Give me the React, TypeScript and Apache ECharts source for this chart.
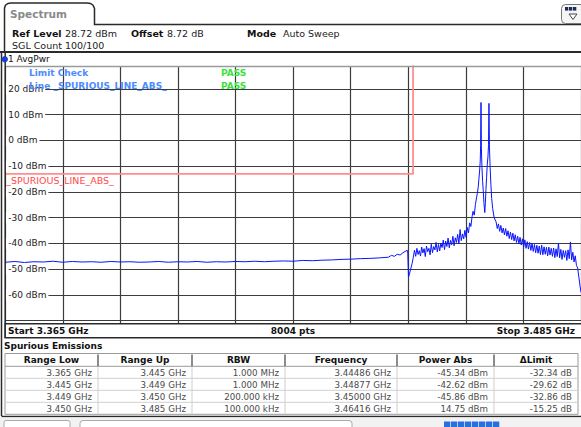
import React, { useEffect, useRef } from "react";
import * as echarts from "echarts";

const FONT = '"DejaVu Sans", Verdana, sans-serif';

// ---- sweep / axes ----
const START_GHZ = 3.365;
const STOP_GHZ = 3.485;
const REF_LEVEL_DBM = 28.72;
const BOTTOM_LEVEL_DBM = -71.28;
const X_DIVISION_MHZ = 12;
const Y_TICKS_DBM = [20, 10, 0, -10, -20, -30, -40, -50, -60];
const Y_TICK_LABELS = ["20 dBm", "10 dBm", "0 dBm", "-10 dBm", "-20 dBm", "-30 dBm", "-40 dBm", "-50 dBm", "-60 dBm"];

// ---- header texts ----
const REF_LEVEL_TEXT = "28.72 dBm";
const OFFSET_TEXT = "8.72 dB";
const MODE_TEXT = "Auto Sweep";
const COUNT_TEXT = "SGL Count 100/100";
const TRACE_NAME = "1 AvgPwr";
const POINTS_TEXT = "8004 pts";

// ---- trace (1 AvgPwr) ----
const FLOOR_START_GHZ = 3.365;
const FLOOR_STEP_GHZ = 0.002;
const FLOOR_DBM = [
  -47.3, -47.0, -47.4, -47.1, -47.2, -46.9, -47.3, -47.0, -47.2, -47.1,
  -47.3, -47.0, -47.2, -47.1, -47.3, -47.2, -47.0, -47.3, -47.1, -47.2,
  -47.0, -47.3, -47.1, -47.2, -47.0, -47.1, -46.9, -47.1, -46.9, -46.8,
  -46.9, -46.6, -46.7, -46.5, -46.4, -46.2, -46.1, -45.9, -45.8, -45.6,
];

const EDGE_GHZ = [3.44486, 3.4455, 3.4461, 3.4467, 3.4473, 3.4479, 3.44877, 3.4489, 3.44905, 3.4492, 3.4495, 3.4498, 3.45];
const EDGE_DBM = [-45.34, -44.6, -45.0, -44.2, -44.5, -43.6, -42.62, -43.8, -53.0, -52.2, -50.0, -47.8, -45.86];

const RISE_START_GHZ = 3.4503;
const RISE_STEP_GHZ = 0.00025;
const RISE_DBM = [
  -42.6, -45.0, -41.9, -44.3, -42.8, -44.9, -41.4, -43.7, -42.0, -45.1,
  -41.0, -43.2, -41.9, -44.4, -40.3, -43.6, -41.2, -42.5, -39.6, -43.3,
  -40.4, -42.9, -39.9, -41.6, -38.7, -42.4, -39.1, -41.2, -37.9, -41.7,
  -38.8, -40.5, -37.2, -40.9, -37.8, -39.6, -36.5, -40.1, -34.6, -38.9,
  -36.3, -38.2, -34.9, -37.6, -33.8, -35.9, -32.0, -33.4, -29.6,
];

const CARRIER_GHZ = [
  3.4625, 3.46275, 3.463, 3.46325, 3.4634, 3.46359, 3.4637, 3.46388, 3.464, 3.46408,
  3.46416, 3.46424, 3.46436, 3.4645, 3.46463, 3.46478, 3.46495, 3.46508, 3.46519, 3.46532,
  3.46546, 3.46562, 3.46573, 3.46582, 3.46592, 3.46606, 3.46622, 3.46638, 3.4666, 3.4669,
];
const CARRIER_DBM = [
  -27.5, -29.0, -24.8, -22.0, -20.5, -18.0, -15.5, -11.5, -8.0, -2.0,
  14.75, -3.0, -10.5, -16.0, -19.5, -24.5, -28.0, -24.0, -19.0, -14.5,
  -9.5, -6.0, -1.5, 14.4, -2.5, -10.4, -17.0, -22.5, -26.5, -30.0,
];

const FALL_START_GHZ = 3.4673;
const FALL_STEP_GHZ = 0.00025;
const FALL_DBM = [
  -31.6, -34.2, -32.4, -35.3, -33.0, -35.9, -34.0, -36.7, -34.2, -37.2,
  -35.1, -38.1, -35.6, -38.5, -36.0, -39.0, -36.6, -39.6, -37.2, -40.2,
  -37.6, -40.6, -38.2, -41.4, -38.6, -41.9, -39.3, -42.2, -39.6, -42.7,
  -40.0, -43.1, -40.4, -43.6, -40.7, -43.8, -41.0, -44.3, -40.6, -44.4,
  -41.3, -44.2, -41.5, -44.8, -41.4, -44.5, -41.9, -45.0, -41.8, -45.5,
  -42.1, -45.1, -39.9, -45.6, -42.3, -46.2, -42.7, -45.4, -42.8, -46.6,
  -42.5, -45.9, -39.4, -46.4, -43.4, -47.2, -44.8, -48.5, -49.5, -53.0,
  -56.5,
];
const TAIL_GHZ = [3.485];
const TAIL_DBM = [-59.0];

// ---- limit line _SPURIOUS_LINE_ABS_ ----
const LIMIT_NAME = "_SPURIOUS_LINE_ABS_";
const LIMIT_GHZ = [3.365, 3.45, 3.45, 3.485];
const LIMIT_DBM = [-13, -13, 30, 30];

// ---- spurious emissions table ----
const TABLE_TITLE = "Spurious Emissions";
const TABLE_HEADERS = ["Range Low", "Range Up", "RBW", "Frequency", "Power Abs", "\u0394Limit"];
const RANGE_LOW = ["3.365 GHz", "3.445 GHz", "3.449 GHz", "3.450 GHz"];
const RANGE_UP = ["3.445 GHz", "3.449 GHz", "3.450 GHz", "3.485 GHz"];
const RBW = ["1.000 MHz", "1.000 MHz", "200.000 kHz", "100.000 kHz"];
const PEAK_FREQ = ["3.44486 GHz", "3.44877 GHz", "3.45000 GHz", "3.46416 GHz"];
const POWER_ABS = ["-45.34 dBm", "-42.62 dBm", "-45.86 dBm", "14.75 dBm"];
const DELTA_LIMIT = ["-32.34 dB", "-29.62 dB", "-32.86 dB", "-15.25 dB"];

function toMHzOffset(ghz: number) {
  return (ghz - START_GHZ) * 1000;
}

function buildTrace(): number[][] {
  const pts: number[][] = [];
  FLOOR_DBM.forEach((v, i) => pts.push([FLOOR_START_GHZ + i * FLOOR_STEP_GHZ, v]));
  EDGE_GHZ.forEach((f, i) => pts.push([f, EDGE_DBM[i]]));
  RISE_DBM.forEach((v, i) => pts.push([RISE_START_GHZ + i * RISE_STEP_GHZ, v]));
  CARRIER_GHZ.forEach((f, i) => pts.push([f, CARRIER_DBM[i]]));
  FALL_DBM.forEach((v, i) => pts.push([FALL_START_GHZ + i * FALL_STEP_GHZ, v]));
  TAIL_GHZ.forEach((f, i) => pts.push([f, TAIL_DBM[i]]));
  return pts.map(([f, v]) => [toMHzOffset(f), v]);
}

const txt = (x: number, y: number, text: string, font: string, fill = "#111", align = "left") => ({
  type: "text",
  x,
  y,
  z: 100,
  silent: true,
  style: { text, font, fill, align, verticalAlign: "middle" },
});
const ln = (x1: number, y1: number, x2: number, y2: number, stroke: string, lineWidth = 1) => ({
  type: "line",
  z: 100,
  silent: true,
  shape: { x1, y1, x2, y2 },
  style: { stroke, lineWidth },
});

function buildGraphics() {
  const g: any[] = [];
  const B9 = `bold 9px ${FONT}`;
  const R9 = `9px ${FONT}`;
  const R85 = `8.7px ${FONT}`;

  // tab
  g.push({
    type: "polyline",
    z: 100,
    silent: true,
    shape: {
      points: [[4.5, 52], [4.5, 8], [5.5, 5.2], [8, 3.5], [11, 3], [87, 3], [90.5, 3.5], [93, 5.2], [94.5, 8.5], [94.5, 24.5], [581, 24.5]],
    },
    style: { stroke: "#2a2a2a", lineWidth: 1.5, fill: null },
  });
  g.push(txt(10, 14, "Spectrum", `bold 10.5px ${FONT}`, "#8a8a8a"));

  // icon top right
  g.push({ type: "rect", z: 100, silent: true, shape: { x: 561.5, y: 4.5, width: 24, height: 19, r: 4 }, style: { fill: "#f5f5f5", stroke: "#777", lineWidth: 1 } });
  [565, 569, 573].forEach((x) =>
    g.push({ type: "rect", z: 101, silent: true, shape: { x, y: 7, width: 3.3, height: 3.6 }, style: { fill: "#1d2d5a" } })
  );
  g.push({ type: "polygon", z: 101, silent: true, shape: { points: [[569, 14], [577, 14], [573, 19.5]] }, style: { fill: "#fff", stroke: "#445", lineWidth: 1 } });

  // info panel
  g.push(txt(12, 33, "Ref Level", `bold 9.5px ${FONT}`));
  g.push(txt(65, 33, REF_LEVEL_TEXT, `9.5px ${FONT}`, "#222"));
  g.push(txt(131, 33, "Offset", `bold 9.5px ${FONT}`));
  g.push(txt(167, 33, OFFSET_TEXT, `9.5px ${FONT}`, "#222"));
  g.push(txt(247, 33, "Mode", `bold 9.5px ${FONT}`));
  g.push(txt(283, 33, MODE_TEXT, `9.5px ${FONT}`, "#222"));
  g.push(txt(12, 45, COUNT_TEXT, `9.5px ${FONT}`, "#222"));
  g.push(ln(0, 52, 581, 52, "#2a2a2a", 1.8));

  // outer left border
  g.push(ln(1.5, 52, 1.5, 416, "#2a2a2a", 1.5));

  // trace name row
  g.push({ type: "circle", z: 101, silent: true, shape: { cx: 4.8, cy: 59.3, r: 3.2 }, style: { fill: "#1a3fd6" } });
  g.push(txt(8, 59.3, TRACE_NAME, R9, "#111"));

  // plot frame
  g.push(ln(5, 66.5, 581, 66.5, "#9a9a9a", 1.5));
  g.push(ln(5.2, 52, 5.2, 338, "#2a2a2a", 1.5));

  // limit check texts
  g.push(txt(29, 72.7, "Limit Check", B9, "#4a8cff"));
  g.push(txt(29, 85.8, "Line " + LIMIT_NAME, B9, "#4a8cff"));
  g.push(txt(221, 72.7, "PASS", B9, "#3be23b"));
  g.push(txt(221, 85.8, "PASS", B9, "#3be23b"));
  g.push(txt(6.2, 180, LIMIT_NAME, `9.5px ${FONT}`, "#ff4a4a"));

  // start / stop bar
  g.push({ type: "rect", z: 100, silent: true, shape: { x: 5.2, y: 323.7, width: 580, height: 14 }, style: { fill: "#fff", stroke: "#2a2a2a", lineWidth: 1.5 } });
  g.push(txt(8, 330.7, `Start ${START_GHZ.toFixed(3)} GHz`, B9));
  g.push(txt(293, 330.7, POINTS_TEXT, B9, "#111", "center"));
  g.push(txt(575, 330.7, `Stop ${STOP_GHZ.toFixed(3)} GHz`, B9, "#111", "right"));

  // table
  g.push(txt(4, 345.5, TABLE_TITLE, B9));
  const COLS = [5, 98, 192, 285, 397, 494, 578];
  const top = 353.5;
  const headH = 12.8;
  const rowH = 12;
  const columns = [RANGE_LOW, RANGE_UP, RBW, PEAK_FREQ, POWER_ABS, DELTA_LIMIT];
  const nRows = RANGE_LOW.length;
  const bottom = top + headH + nRows * rowH;
  g.push({ type: "rect", z: 100, silent: true, shape: { x: COLS[0], y: top, width: COLS[6] - COLS[0], height: bottom - top }, style: { fill: "#fff", stroke: "#9a9a9a", lineWidth: 1 } });
  for (let r = 1; r <= nRows - 1; r++) {
    const y = top + headH + r * rowH;
    g.push(ln(COLS[0], y, COLS[6], y, "#d0d0d0", 1));
  }
  g.push(ln(COLS[0], top + headH, COLS[6], top + headH, "#9a9a9a", 1));
  for (let c = 1; c < COLS.length - 1; c++) {
    g.push(ln(COLS[c], top + headH, COLS[c], bottom, "#cfcfcf", 1));
    g.push(ln(COLS[c], top + 1, COLS[c], top + headH, "#666", 1.5));
  }
  TABLE_HEADERS.forEach((h, c) => g.push(txt((COLS[c] + COLS[c + 1]) / 2, top + headH / 2 + 0.3, h, B9, "#111", "center")));
  columns.forEach((col, c) =>
    col.forEach((v, r) => g.push(txt(COLS[c + 1] - 6, top + headH + r * rowH + rowH / 2 + 0.3, v, R85, "#4a4a4a", "right")))
  );
  g.push(ln(1.5, 416.5, 581, 416.5, "#2a2a2a", 1.5));

  // bottom strip
  g.push({ type: "rect", z: 100, silent: true, shape: { x: 0, y: 417.5, width: 581, height: 10 }, style: { fill: "#f2f2f2" } });
  g.push({ type: "rect", z: 101, silent: true, shape: { x: 4, y: 420.5, width: 66, height: 10, r: 2 }, style: { fill: "#fff", stroke: "#aaa", lineWidth: 1 } });
  g.push({ type: "rect", z: 101, silent: true, shape: { x: 80, y: 420.5, width: 272, height: 10, r: 3 }, style: { fill: "#fff", stroke: "#aaa", lineWidth: 1 } });
  [444, 451, 458, 465, 472, 479, 486, 493].forEach((x) =>
    g.push({ type: "rect", z: 101, silent: true, shape: { x, y: 421.5, width: 6.3, height: 6 }, style: { fill: "#2a6fe0" } })
  );
  return g;
}

export default function App() {
  const ref = useRef<HTMLDivElement>(null);
  useEffect(() => {
    if (!ref.current) return;
    const chart = echarts.init(ref.current, null, { renderer: "svg" });
    const spanMHz = Math.round((STOP_GHZ - START_GHZ) * 1e6) / 1e3;
    const option: any = {
      animation: false,
      backgroundColor: "#fff",
      textStyle: { fontFamily: FONT },
      grid: { left: 5.2, top: 66.5, width: 576.4, height: 257.5, show: false },
      xAxis: {
        type: "value",
        min: 0,
        max: spanMHz,
        interval: X_DIVISION_MHZ,
        axisLine: { show: false },
        axisTick: { show: false },
        axisLabel: { show: false },
        splitLine: { show: true, lineStyle: { color: "#3c3c3c", width: 1.2 } },
      },
      yAxis: {
        type: "value",
        min: BOTTOM_LEVEL_DBM,
        max: REF_LEVEL_DBM,
        splitNumber: 10,
        axisLine: { show: false },
        axisTick: { show: false },
        splitLine: { show: true, lineStyle: { color: "#3c3c3c", width: 1.2 } },
        axisLabel: {
          inside: true,
          margin: 0,
          showMinLabel: false,
          showMaxLabel: false,
          formatter: (v: number) => {
            const i = Y_TICKS_DBM.findIndex((t) => Math.abs(t - v) < 1e-6);
            return i >= 0 ? `{w|${Y_TICK_LABELS[i]}}` : "";
          },
          rich: {
            w: { backgroundColor: "#fff", padding: [1, 2, 1, 3], fontSize: 9, fontFamily: FONT, color: "#222" },
          },
        },
      },
      series: [
        {
          type: "line",
          name: LIMIT_NAME,
          data: LIMIT_GHZ.map((f, i) => [toMHzOffset(f), LIMIT_DBM[i]]),
          showSymbol: false,
          silent: true,
          clip: true,
          z: 3,
          lineStyle: { color: "#ff8e8e", width: 1.8 },
        },
        {
          type: "line",
          name: TRACE_NAME,
          data: buildTrace(),
          showSymbol: false,
          silent: true,
          clip: true,
          z: 4,
          lineStyle: { color: "#0a14ff", width: 1 },
        },
      ],
      graphic: { elements: buildGraphics() },
    };
    chart.setOption(option);
    return () => chart.dispose();
  }, []);
  return <div ref={ref} style={{ position: "absolute", left: 0, top: 0, width: 581, height: 427, background: "#fff" }} />;
}
